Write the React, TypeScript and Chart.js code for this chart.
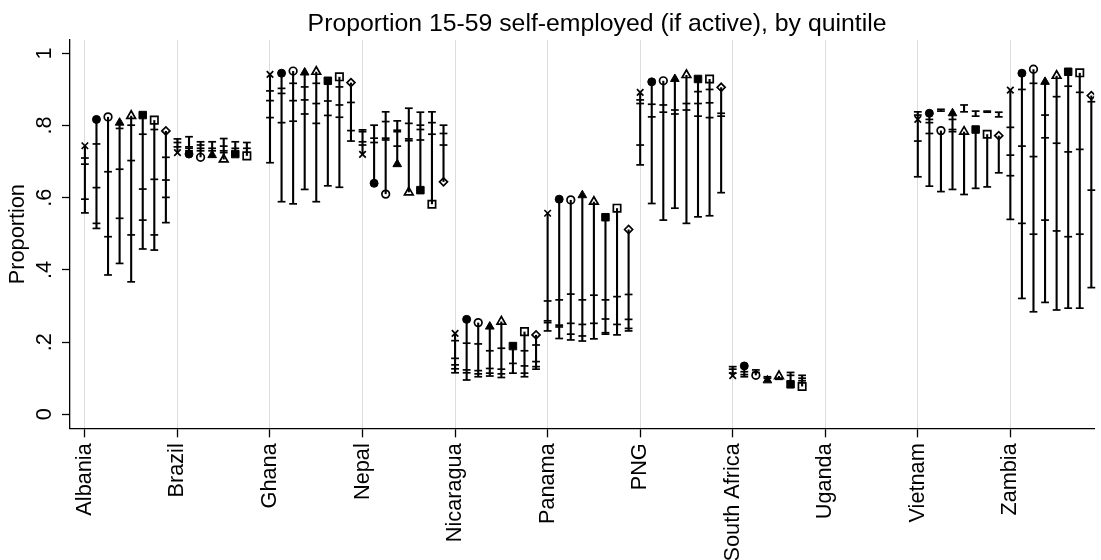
import { useEffect, useRef } from 'react';
import { Chart, registerables } from 'chart.js';

Chart.register(...registerables);

const FONT = '"Liberation Sans", Arial, Helvetica, sans-serif';
const TITLE = 'Proportion 15-59 self-employed (if active), by quintile';

const countries = [
  'Albania', 'Brazil', 'Ghana', 'Nepal', 'Nicaragua', 'Panama',
  'PNG', 'South Africa', 'Uganda', 'Vietnam', 'Zambia',
];
const yTicks = [0, 0.2, 0.4, 0.6, 0.8, 1];
const seriesLabels = ['Group 1', 'Group 2', 'Group 3', 'Group 4', 'Group 5', 'Group 6', 'Group 7', 'Group 8'];

// series order: x, filled circle, hollow circle, filled triangle,
// hollow triangle, filled square, hollow square, hollow diamond
type Caps = number[][] | null;

const albaniaValues = [0.744, 0.817, 0.824, 0.808, 0.827, 0.829, 0.815, 0.785];
const albaniaCaps: Caps[] = [
  [[0.71, 0.693, 0.596, 0.558]],
  [[0.749, 0.628, 0.529, 0.515]],
  [[0.672, 0.492, 0.386]],
  [[0.792, 0.679, 0.543, 0.418]],
  [[0.801, 0.703, 0.497, 0.367]],
  [[0.776, 0.624, 0.538, 0.458]],
  [[0.789, 0.651, 0.497, 0.455]],
  [[0.712, 0.649, 0.601, 0.531]],
];

const brazilValues = [0.725, 0.721, 0.712, 0.718, 0.706, 0.721, 0.716, null];
const brazilCaps: Caps[] = [
  [[0.763, 0.753, 0.741]],
  [[0.769, 0.741, 0.737, 0.73]],
  [[0.755, 0.746, 0.737, 0.73]],
  [[0.755, 0.737, 0.73]],
  [[0.764, 0.743, 0.73, 0.725]],
  [[0.755, 0.737]],
  [[0.753, 0.737]],
  null,
];

const ghanaValues = [0.942, 0.945, 0.951, 0.947, 0.949, 0.924, 0.935, 0.919];
const ghanaCaps: Caps[] = [
  [[0.896, 0.869, 0.822, 0.697]],
  [[0.903, 0.889, 0.808, 0.589]],
  [[0.917, 0.869, 0.812, 0.583]],
  [[0.907, 0.871, 0.832, 0.623]],
  [[0.917, 0.861, 0.806, 0.589]],
  [[0.868, 0.828, 0.633]],
  [[0.907, 0.857, 0.823, 0.629]],
  [[0.864, 0.786, 0.757]],
];

const nepalValues = [0.72, 0.64, 0.61, 0.693, 0.615, 0.621, 0.582, 0.644];
const nepalCaps: Caps[] = [
  [[0.788, 0.783, 0.755, 0.746]],
  [[0.801, 0.765, 0.753]],
  [[0.838, 0.811, 0.765, 0.76]],
  [[0.813, 0.787, 0.783, 0.743]],
  [[0.848, 0.806, 0.763, 0.758]],
  [[0.837, 0.801, 0.789, 0.76]],
  [[0.838, 0.808, 0.776]],
  [[0.801, 0.778, 0.746]],
];

const nicaraguaValues = [0.224, 0.263, 0.254, 0.243, 0.257, 0.189, 0.229, 0.22];
const nicaraguaCaps: Caps[] = [
  [[0.204, 0.155, 0.137, 0.126, 0.115]],
  [[0.197, 0.123, 0.115, 0.095]],
  [[0.195, 0.121, 0.112, 0.104]],
  [[0.176, 0.127, 0.114, 0.106]],
  [[0.183, 0.125, 0.112, 0.102]],
  [[0.141, 0.114]],
  [[0.176, 0.134, 0.114, 0.104]],
  [[0.192, 0.146, 0.132, 0.125]],
];

const panamaValues = [0.557, 0.596, 0.594, 0.607, 0.589, 0.546, 0.571, 0.512];
const panamaCaps: Caps[] = [
  [[0.314, 0.259, 0.254, 0.231]],
  [[0.317, 0.247, 0.242, 0.21]],
  [[0.333, 0.252, 0.222, 0.206]],
  [[0.317, 0.249, 0.217, 0.203]],
  [[0.33, 0.252, 0.209]],
  [[0.317, 0.264, 0.226, 0.222]],
  [[0.326, 0.249, 0.22]],
  [[0.332, 0.263, 0.238, 0.231]],
];

const pngValues = [0.892, 0.921, 0.924, 0.929, 0.94, 0.929, 0.929, 0.906];
const pngCaps: Caps[] = [
  [[0.871, 0.861, 0.746, 0.691]],
  [[0.859, 0.824, 0.584]],
  [[0.857, 0.837, 0.538]],
  [[0.843, 0.832, 0.571]],
  [[0.861, 0.843, 0.529]],
  [[0.894, 0.861, 0.826, 0.547]],
  [[0.9, 0.863, 0.822, 0.55]],
  [[0.834, 0.826, 0.614]],
];

const southAfricaValues = [0.107, 0.134, 0.108, 0.094, 0.106, 0.083, 0.077, null];
const southAfricaCaps: Caps[] = [
  [[0.132, 0.125, 0.114]],
  [[0.118, 0.11, 0.104]],
  [[0.123, 0.116]],
  [[0.104, 0.1]],
  [[0.1, 0.097]],
  [[0.116, 0.108]],
  [[0.108, 0.1, 0.093]],
  null,
];

const ugandaValues = [null, null, null, null, null, null, null, null];
const ugandaCaps: Caps[] = [null, null, null, null, null, null, null, null];

const vietnamValues = [0.817, 0.834, 0.786, 0.834, 0.783, 0.789, 0.776, 0.772];
const vietnamCaps: Caps[] = [
  [[0.838, 0.829, 0.757, 0.658]],
  [[0.817, 0.808, 0.778, 0.632]],
  [[0.617], [0.845, 0.84]],
  [[0.817, 0.789, 0.783, 0.623]],
  [[0.609], [0.857, 0.838]],
  [[0.626], [0.84, 0.826]],
  [[0.63], [0.84, 0.837]],
  [[0.669], [0.837, 0.824]],
];

const zambiaValues = [0.898, 0.945, 0.956, 0.921, 0.938, 0.949, 0.946, 0.883];
const zambiaCaps: Caps[] = [
  [[0.795, 0.718, 0.661, 0.54]],
  [[0.9, 0.743, 0.529, 0.321]],
  [[0.917, 0.714, 0.499, 0.284]],
  [[0.829, 0.766, 0.538, 0.31]],
  [[0.88, 0.751, 0.508, 0.289]],
  [[0.909, 0.727, 0.492, 0.294]],
  [[0.892, 0.734, 0.499, 0.294]],
  [[0.866, 0.621, 0.351]],
];

const countryValues: (number | null)[][] = [
  albaniaValues, brazilValues, ghanaValues, nepalValues, nicaraguaValues, panamaValues,
  pngValues, southAfricaValues, ugandaValues, vietnamValues, zambiaValues,
];
const countryCaps: Caps[][] = [
  albaniaCaps, brazilCaps, ghanaCaps, nepalCaps, nicaraguaCaps, panamaCaps,
  pngCaps, southAfricaCaps, ugandaCaps, vietnamCaps, zambiaCaps,
];

const SERIES_STEP = 0.125;

const seriesStyles = [
  { pointStyle: 'crossRot', radius: 4.6, filled: false },
  { pointStyle: 'circle', radius: 4, filled: true },
  { pointStyle: 'circle', radius: 3.8, filled: false },
  { pointStyle: 'triangle', radius: 5, filled: true },
  { pointStyle: 'triangle', radius: 5, filled: false },
  { pointStyle: 'rect', radius: 5.3, filled: true },
  { pointStyle: 'rect', radius: 5.2, filled: false },
  { pointStyle: 'rectRot', radius: 4, filled: false },
];

// vertical lines with cap ticks; first group of each point joins the marker
const rangePlugin = {
  id: 'rangeLines',
  beforeDatasetsDraw(chart: any) {
    const { ctx, scales } = chart;
    const x = scales.x;
    const y = scales.y;
    ctx.save();
    ctx.strokeStyle = '#000';
    ctx.lineCap = 'butt';
    countryValues.forEach((vals, ci) => {
      vals.forEach((v, si) => {
        const groups = countryCaps[ci][si];
        if (v == null || !groups) return;
        const px = x.getPixelForValue(ci + si * SERIES_STEP);
        groups.forEach((g, gi) => {
          const span = gi === 0 ? [...g, v] : g;
          const lo = Math.min(...span);
          const hi = Math.max(...span);
          ctx.lineWidth = 2.1;
          ctx.beginPath();
          ctx.moveTo(px, y.getPixelForValue(lo));
          ctx.lineTo(px, y.getPixelForValue(hi));
          ctx.stroke();
          ctx.lineWidth = 1.7;
          g.forEach((t) => {
            const py = y.getPixelForValue(t);
            ctx.beginPath();
            ctx.moveTo(px - 3.9, py);
            ctx.lineTo(px + 3.9, py);
            ctx.stroke();
          });
        });
      });
    });
    ctx.restore();
  },
};

const titlePlugin = {
  id: 'plotTitle',
  afterDraw(chart: any) {
    const { ctx, chartArea } = chart;
    ctx.save();
    ctx.font = `24.8px ${FONT}`;
    ctx.fillStyle = '#000';
    ctx.textAlign = 'center';
    ctx.textBaseline = 'alphabetic';
    ctx.fillText(TITLE, (chartArea.left + chartArea.right) / 2 + 15, 30.5);
    ctx.restore();
  },
};

function formatY(v: number) {
  if (v === 0) return '0';
  if (v === 1) return '1';
  return v.toFixed(1).replace(/^0/, '');
}

export default function App() {
  const canvasRef = useRef<HTMLCanvasElement | null>(null);
  const chartRef = useRef<Chart | null>(null);

  useEffect(() => {
    const canvas = canvasRef.current;
    if (!canvas) return;
    const context = canvas.getContext('2d');
    if (!context) return;

    const datasets = seriesStyles.map((st, si) => ({
      label: seriesLabels[si],
      data: countryValues.flatMap((vals, ci) =>
        vals[si] == null ? [] : [{ x: ci + si * SERIES_STEP, y: vals[si] as number }],
      ),
      pointStyle: st.pointStyle,
      pointRadius: st.radius,
      pointHoverRadius: st.radius,
      borderColor: '#000',
      backgroundColor: st.filled ? '#000' : 'rgba(0,0,0,0)',
      pointBorderWidth: st.filled ? 1 : 1.7,
      borderWidth: st.filled ? 1 : 1.7,
      showLine: false,
    }));

    const tickFont = { family: FONT, size: 21.7 };

    chartRef.current?.destroy();
    chartRef.current = new Chart(context, {
      type: 'scatter',
      data: { datasets } as any,
      options: {
        animation: false,
        responsive: true,
        maintainAspectRatio: false,
        events: [],
        layout: { padding: { top: 40, right: 0, bottom: 0, left: 0 } },
        plugins: {
          legend: { display: false },
          tooltip: { enabled: false },
          title: { display: false },
        },
        scales: {
          x: {
            type: 'linear',
            min: -0.161,
            max: 10.905,
            afterBuildTicks: (s: any) => {
              s.ticks = countries.map((_, i) => ({ value: i }));
            },
            afterFit: (s: any) => {
              s.height = 131.7;
            },
            ticks: {
              autoSkip: false,
              minRotation: 90,
              maxRotation: 90,
              padding: 6,
              color: '#000',
              font: tickFont,
              callback: (v: any) => countries[Math.round(Number(v))] ?? '',
            },
            grid: {
              color: '#dcdcdc',
              lineWidth: 1,
              tickColor: '#000',
              tickLength: 9,
              tickWidth: 1.3,
            },
            border: { display: true, color: '#000', width: 1.3 },
          },
          y: {
            type: 'linear',
            min: -0.0388,
            max: 1.037,
            afterBuildTicks: (s: any) => {
              s.ticks = yTicks.map((v) => ({ value: v }));
            },
            afterFit: (s: any) => {
              s.width = 70;
            },
            ticks: {
              minRotation: 90,
              maxRotation: 90,
              crossAlign: 'center',
              padding: 8,
              color: '#000',
              font: tickFont,
              callback: (v: any) => formatY(Number(v)),
            },
            grid: {
              drawOnChartArea: false,
              tickColor: '#000',
              tickLength: 8,
              tickWidth: 1.3,
            },
            border: { display: true, color: '#000', width: 1.3 },
            title: {
              display: true,
              text: 'Proportion',
              color: '#000',
              font: tickFont,
              padding: { top: 5, bottom: 0 },
            },
          },
        },
      } as any,
      plugins: [rangePlugin, titlePlugin],
    });

    return () => {
      chartRef.current?.destroy();
      chartRef.current = null;
    };
  }, []);

  return (
    <div
      style={{
        position: 'fixed',
        left: 0,
        top: 0,
        width: 1101,
        height: 560,
        background: '#fff',
      }}
    >
      <canvas ref={canvasRef} />
    </div>
  );
}
